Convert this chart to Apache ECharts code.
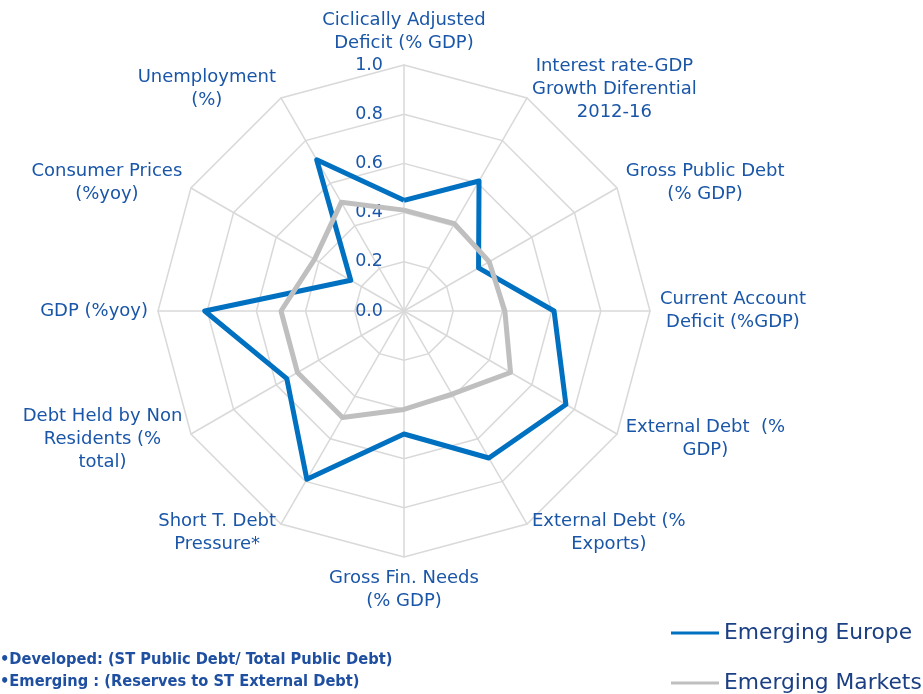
<!DOCTYPE html>
<html>
<head>
<meta charset="utf-8">
<script src="https://cdn.jsdelivr.net/npm/echarts@6/dist/echarts.min.js"></script>
<style>
html,body{margin:0;padding:0;background:#fff;}
#chart{width:923px;height:694px;}
</style>
</head>
<body>
<div id="chart"></div>
<script>
// Categories in clockwise order starting from the top
var categories = [
  'Ciclically Adjusted\nDeficit (% GDP)',
  'Interest rate-GDP\nGrowth Diferential\n2012-16',
  'Gross Public Debt\n(% GDP)',
  'Current Account\nDeficit (%GDP)',
  'External Debt  (%\nGDP)',
  'External Debt (%\nExports)',
  'Gross Fin. Needs\n(% GDP)',
  'Short T. Debt\nPressure*',
  'Debt Held by Non\nResidents (%\ntotal)',
  'GDP (%yoy)',
  'Consumer Prices\n(%yoy)',
  'Unemployment\n(%)'
];
var emergingEurope  = [0.45, 0.61, 0.35, 0.61, 0.76, 0.69, 0.50, 0.79, 0.55, 0.81, 0.25, 0.71];
var emergingMarkets = [0.41, 0.41, 0.40, 0.41, 0.50, 0.39, 0.40, 0.50, 0.50, 0.50, 0.42, 0.51];
var seriesNames = ['Emerging Europe', 'Emerging Markets'];
var footnotes = [
  '\u2022Developed: (ST Public Debt/ Total Public Debt)',
  '\u2022Emerging : (Reserves to ST External Debt)'
];
var axisMin = 0, axisMax = 1, splitCount = 5;

// ECharts radar runs counter-clockwise; reorder so the picture runs clockwise
var order = [0];
for (var i = categories.length - 1; i >= 1; i--) order.push(i);
function reorder(arr) { return order.map(function (k) { return arr[k]; }); }

var indicators = reorder(categories).map(function (name, j) {
  var ind = { name: name, min: axisMin, max: axisMax };
  if (j === 0) ind.axisLabel = { show: true };
  return ind;
});

var FONT = '"DejaVu Sans", sans-serif';
var LABEL_COLOR = '#1a56a8';
function legendFor(name, top) {
  return {
    orient: 'vertical',
    left: 671,
    top: top,
    padding: 0,
    itemWidth: 48,
    itemHeight: 3,
    icon: 'rect',
    textStyle: { color: '#1b3f83', fontSize: 21.8, fontFamily: FONT },
    data: [name]
  };
}
var chart = echarts.init(document.getElementById('chart'), null, { renderer: 'canvas' });
chart.setOption({
  animation: false,
  backgroundColor: '#ffffff',
  legend: [legendFor(seriesNames[0], 622), legendFor(seriesNames[1], 672)],
  radar: {
    center: [404, 311],
    radius: 246,
    startAngle: 90,
    splitNumber: splitCount,
    shape: 'polygon',
    nameGap: 10,
    axisName: {
      color: LABEL_COLOR,
      fontSize: 18,
      fontFamily: FONT,
      lineHeight: 23,
      formatter: function (v) {
        return v.split('\n').map(function (l) { return '{c|' + l + '}'; }).join('\n');
      },
      rich: { c: { align: 'center', color: LABEL_COLOR, fontSize: 18, fontFamily: FONT, lineHeight: 23 } }
    },
    axisLine: { lineStyle: { color: '#d9d9d9', width: 1.5 } },
    splitLine: { lineStyle: { color: '#d9d9d9', width: 1.5 } },
    splitArea: { show: false },
    axisTick: { show: false },
    axisLabel: {
      show: false,
      color: LABEL_COLOR,
      fontSize: 17.5,
      fontFamily: FONT,
      margin: 21,
      formatter: function (v) { return v.toFixed(1); }
    },
    indicator: indicators
  },
  series: [{
    type: 'radar',
    symbol: 'none',
    data: [
      { name: seriesNames[0], value: reorder(emergingEurope),
        lineStyle: { color: '#0070c0', width: 5 }, itemStyle: { color: '#0070c0' } },
      { name: seriesNames[1], value: reorder(emergingMarkets),
        lineStyle: { color: '#bfbfbf', width: 5 }, itemStyle: { color: '#bfbfbf' } }
    ]
  }],
  graphic: footnotes.map(function (t, k) {
    return {
      type: 'text',
      left: 0,
      top: 652 + k * 22,
      style: {
        text: t,
        fill: '#1f4fa0',
        font: 'bold 16.3px "Liberation Sans Narrow", "DejaVu Sans Condensed", sans-serif'
      }
    };
  })
});
</script>
</body>
</html>
